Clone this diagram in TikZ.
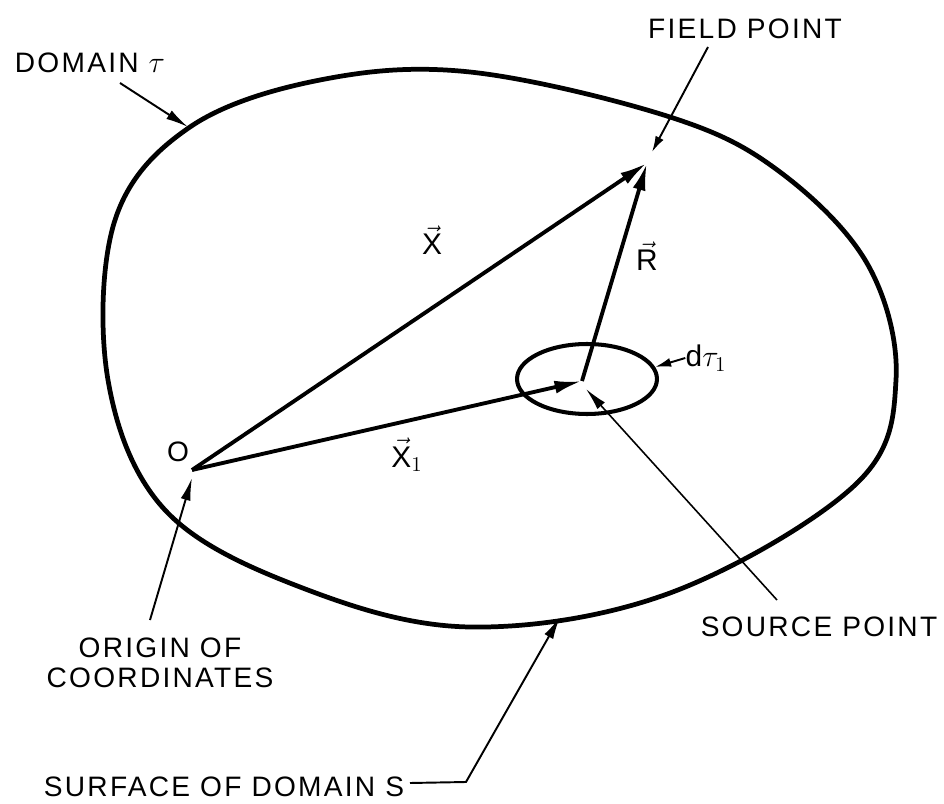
\documentclass[tikz,border=0pt]{standalone}
\usepackage{amsmath}
\usepackage{fontspec}
\setmainfont{Liberation Sans}[LetterSpace=8]
\usetikzlibrary{arrows.meta,shapes.geometric}

\begin{document}
\begin{tikzpicture}[
    x=0.02cm, y=-0.02cm,
    lbl/.style={font=\fontsize{16}{17}\selectfont,align=center,inner sep=0pt},
    vlbl/.style={font=\fontsize{17}{18}\selectfont,inner sep=0pt},
    bound/.style={line width=2.7pt,line join=round},
    arr/.style={line width=2.2pt,-{Latex[length=5.5mm,width=2.6mm]}},
    lead/.style={line width=1.1pt,-{Latex[length=4.5mm,width=2mm]}},
    shortlead/.style={line width=1.1pt,-{Latex[length=3.2mm,width=1.8mm]}}
  ]
  \useasboundingbox (0,0) rectangle (944,804);

  % domain tau
  \draw[bound] plot[smooth cycle,tension=0.6] coordinates {
    (470,72) (670,117) (780,172) (868,265) (896,380) (855,485) (670,593)
    (470,627) (300,587) (165,510) (108,380) (115,220) (190,127) (320,80)};
  \node[ellipse,draw,line width=2.3pt,minimum width=2.8cm,minimum height=1.4cm,
        inner sep=0pt] (dtau) at (587,379) {};

  \coordinate (O) at (192,470);
  \coordinate (F) at (647,163);
  \coordinate (S) at (582,381);

  \draw[arr] (O) -- (F);
  \draw[arr] (O) -- (S);
  \draw[arr] (S) -- (F);

  \node[vlbl] (xlbl) at (432,240) {$\vec{\text{X}}$};
  \node[vlbl] (rlbl) at (647,256) {$\vec{\text{R}}$};
  \node[vlbl] (x1lbl) at (407,455) {$\vec{\text{X}}_1$};
  \node[vlbl] (dtlbl) at (706,358) {d$\tau_1$};
  \node[lbl] (olbl) at (178,452) {O};

  \node[lbl] (domlbl) at (90,63) {DOMAIN $\tau$};
  \node[lbl] (fieldlbl) at (745,29) {FIELD POINT};
  \node[lbl] (srclbl) at (819,627) {SOURCE POINT};
  \node[lbl] (orglbl) at (160,663) {ORIGIN OF\\COORDINATES};
  \node[lbl] (surflbl) at (224,787) {SURFACE OF DOMAIN S};

  % leader ends
  \coordinate (d0) at (120,83);
  \coordinate (d1) at (188,127);
  \coordinate (f0) at (708,47);
  \coordinate (f1) at (652,152);
  \coordinate (s0) at (777,600);
  \coordinate (s1) at (586,389);
  \coordinate (o0) at (150,620);
  \coordinate (o1) at (192,478);
  \coordinate (b0) at (410,783);
  \coordinate (b1) at (466,782);
  \coordinate (b2) at (560,617);

  \draw[lead] (d0) -- (d1);
  \draw[shortlead] (f0) -- (f1);
  \draw[lead,line width=0.9pt] (s0) -- (s1);
  \draw[lead] (o0) -- (o1);
  \draw[lead] (b0) -- (b1) -- (b2);
  \draw[shortlead] (dtlbl.west) -- (dtau.10);
\end{tikzpicture}
\end{document}
